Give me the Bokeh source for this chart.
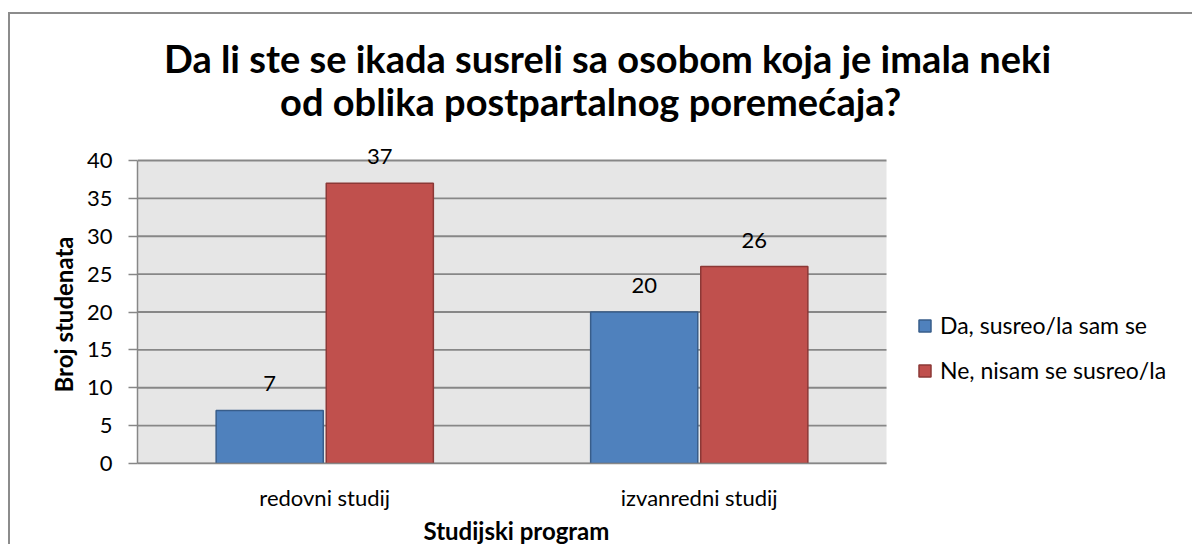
from bokeh.plotting import figure
from bokeh.models import (ColumnDataSource, Range1d, FixedTicker, Legend,
                          LegendItem, LabelSet, Label, BoxAnnotation, Title)
from bokeh.transform import dodge
from bokeh.core.properties import value
from bokeh.embed import file_html
from bokeh.resources import INLINE

categories = ["redovni studij", "izvanredni studij"]
series_names = ["Da, susreo/la sam se", "Ne, nisam se susreo/la"]
da_values = [7, 20]
ne_values = [37, 26]
y_ticks = [0, 5, 10, 15, 20, 25, 30, 35, 40]
title_lines = ["Da li ste se ikada susreli sa osobom koja je imala neki",
               "od oblika postpartalnog poremećaja?"]
x_title = "Studijski program"
y_title = "Broj studenata"

FONT = "Lato"
BLUE, BLUE_LINE = "#4f81bd", "#385d8a"
RED, RED_LINE = "#c0504d", "#8c3836"
GRID = "#878787"

n = len(categories)
xc = [i + 0.5 for i in range(n)]          # category centres on a numeric scale
y_max = y_ticks[-1]

src = ColumnDataSource(dict(x=xc, cat=categories, da=da_values, ne=ne_values,
                            da_t=[str(v) for v in da_values],
                            ne_t=[str(v) for v in ne_values]))

# canvas at page (10,14); frame: left 137, right 1194, top 14, bottom 463
p = figure(width=1184, height=532, x_range=Range1d(0, n * (1194 - 137) / 749),
           y_range=Range1d(0, y_max * (463 - 14) / 303), output_backend="svg",
           toolbar_location=None, min_border_left=127, min_border_right=0,
           min_border_top=0, min_border_bottom=83)
p.margin = (12, 0, 0, 8)
p.styles = {"border-top": "2px solid #8c8c8c", "border-left": "2px solid #8c8c8c"}

p.background_fill_color = "white"
p.border_fill_color = "white"
p.outline_line_color = None
p.add_layout(BoxAnnotation(left=0, right=n, bottom=0, top=y_max, fill_color="#e6e6e6",
                           fill_alpha=1, line_color=None, level="image"))

# horizontal grid lines across the plot area only
p.segment(x0=[0] * len(y_ticks), x1=[n] * len(y_ticks), y0=y_ticks, y1=y_ticks,
          line_color=GRID, line_width=1.8, level="underlay")

r1 = p.vbar(x=dodge("x", -0.147), top="da", width=0.286, source=src,
            fill_color=BLUE, line_color=BLUE_LINE, line_width=1.5)
r2 = p.vbar(x=dodge("x", 0.147), top="ne", width=0.286, source=src,
            fill_color=RED, line_color=RED_LINE, line_width=1.5)

for col, off in (("da_t", -0.147), ("ne_t", 0.147)):
    ls = LabelSet(x=dodge("x", off), y=col[:2], text=col, source=src,
                  y_offset=19, text_align="center", text_baseline="alphabetic",
                  text_font=value(FONT), text_font_size="22px", text_color="black")
    p.add_layout(ls)

# axes
p.yaxis.ticker = FixedTicker(ticks=y_ticks)
p.yaxis.bounds = (0, y_max)
p.yaxis.axis_line_color = GRID
p.yaxis.axis_line_width = 1.5
p.yaxis.major_tick_line_color = GRID
p.yaxis.major_tick_line_width = 1.5
p.yaxis.major_tick_out = 9
p.yaxis.major_tick_in = 0
p.yaxis.minor_tick_line_color = None
p.yaxis.major_label_standoff = 16
p.yaxis.major_label_text_font = FONT
p.yaxis.major_label_text_font_size = "22px"
p.yaxis.major_label_text_color = "black"

p.xaxis.ticker = FixedTicker(ticks=xc)
p.xaxis.major_label_overrides = {x: c for x, c in zip(xc, categories)}
p.xaxis.bounds = (0, n)
p.xaxis.axis_line_color = GRID
p.xaxis.axis_line_width = 1.5
p.xaxis.major_tick_line_color = None
p.xaxis.major_tick_out = 0
p.xaxis.minor_tick_line_color = None
p.xaxis.major_label_standoff = 20
p.xaxis.major_label_text_font = FONT
p.xaxis.major_label_text_font_size = "22px"
p.xaxis.major_label_text_color = "black"

p.xgrid.visible = False
p.ygrid.visible = False

# axis titles, centred on the plot area (not on the whole frame)
p.add_layout(Title(text=x_title, align="left", offset=286, text_font=FONT,
                   text_font_style="bold", text_font_size="24px", text_color="black",
                   standoff=0), "below")
p.add_layout(Title(text=y_title, align="left", offset=71, text_font=FONT,
                   text_font_style="bold", text_font_size="24px", text_color="black",
                   standoff=11), "left")

# title: two centred lines
for txt, xx, yy in zip(title_lines, (1.255, 1.21), (53.47, 47.92)):
    p.add_layout(Label(x=xx, y=yy, text=txt, text_align="center", text_baseline="middle",
                       text_font=FONT, text_font_style="bold", text_font_size="38px",
                       text_color="black"))

legend = Legend(items=[LegendItem(label=series_names[0], renderers=[r1]),
                       LegendItem(label=series_names[1], renderers=[r2])],
                location=(780, 79), orientation="vertical",
                glyph_width=15, glyph_height=15, label_height=28, spacing=17,
                padding=0, margin=0, border_line_color=None, background_fill_alpha=0,
                label_text_font=FONT, label_text_font_size="23px", label_text_color="black",
                label_standoff=8)
p.add_layout(legend, "center")

open("out.html", "w").write(file_html(p, INLINE))
